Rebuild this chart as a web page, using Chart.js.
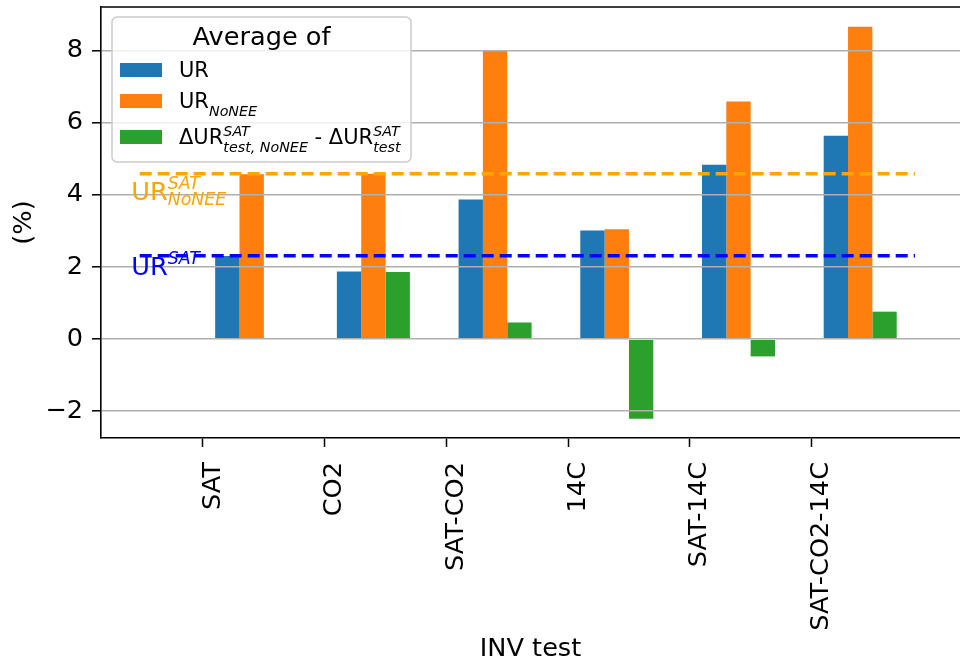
<!DOCTYPE html>
<html>
<head>
<meta charset="utf-8">
<script src="https://cdn.jsdelivr.net/npm/chart.js@4.4.0/dist/chart.umd.min.js"></script>
<style>
html, body { margin: 0; padding: 0; background: #fff; }
canvas { display: block; }
</style>
</head>
<body>
<canvas id="chart" width="960" height="667"></canvas>
<script>
// values
const categories = ['SAT', 'CO2', 'SAT-CO2', '14C', 'SAT-14C', 'SAT-CO2-14C'];
const urValues = [2.30, 1.87, 3.87, 3.01, 4.83, 5.63];
const urNoNeeValues = [4.57, 4.58, 7.99, 3.04, 6.58, 8.65];
const deltaValues = [null, 1.86, 0.46, -2.21, -0.48, 0.76];
const yTicks = [-2, 0, 2, 4, 6, 8];

// reference levels (dashed lines)
const urSat = 2.31;
const urSatNoNee = 4.58;
const refLineFrom = -0.52;
const refLineTo = 5.85;

const FONT = '"DejaVu Sans", sans-serif';
const BIG = 25.6;
const LEG = 21;

// bars sit to the right of the tick, the group centred at i + 0.4
const groupOffset = 0.4;

function barData(values) {
    return values.map((v, i) => ({ x: i + groupOffset, y: v }));
}

function lineData(level) {
    return [{ x: refLineFrom, y: level }, { x: refLineTo, y: level }];
}

// text with mathtext-like super/subscripts
function drawRich(ctx, x, y, size, parts, color, shifts) {
    ctx.save();
    ctx.fillStyle = color;
    ctx.textAlign = 'left';
    ctx.textBaseline = 'alphabetic';
    const small = size * 0.68;
    parts.forEach(p => {
        if (typeof p === 'string') {
            ctx.font = size + 'px ' + FONT;
            ctx.fillText(p, x, y);
            x += ctx.measureText(p).width;
        } else {
            ctx.font = 'italic ' + small + 'px ' + FONT;
            let w = 0;
            if (p.sup) {
                ctx.fillText(p.sup, x, y - size * shifts.sup);
                w = Math.max(w, ctx.measureText(p.sup).width);
            }
            if (p.sub) {
                ctx.fillText(p.sub, x, y + size * shifts.sub);
                w = Math.max(w, ctx.measureText(p.sub).width);
            }
            x += w;
        }
    });
    ctx.restore();
}

const extrasPlugin = {
    id: 'extras',
    afterDraw(chart) {
        const ctx = chart.ctx;
        const ca = chart.chartArea;
        const xs = chart.scales.x;
        const ys = chart.scales.y;

        // top spine
        ctx.save();
        ctx.strokeStyle = '#000';
        ctx.lineWidth = 1.6;
        ctx.beginPath();
        ctx.moveTo(ca.left, ca.top);
        ctx.lineTo(ca.right, ca.top);
        ctx.stroke();
        ctx.restore();

        // labels next to the dashed lines
        const ax = xs.getPixelForValue(-0.59);
        drawRich(ctx, ax, ys.getPixelForValue(3.85), BIG,
            ['UR', { sup: 'SAT', sub: 'NoNEE' }], '#FFA500', { sup: 0.44, sub: 0.2 });
        drawRich(ctx, ax, ys.getPixelForValue(1.77), BIG,
            ['UR', { sup: 'SAT' }], '#0000FF', { sup: 0.44, sub: 0.2 });

        // legend box
        const bx = ca.left + 11, by = ca.top + 10, bw = 299, bh = 145;
        ctx.save();
        ctx.fillStyle = 'rgba(255,255,255,0.8)';
        ctx.strokeStyle = '#cccccc';
        ctx.lineWidth = 1.5;
        ctx.beginPath();
        ctx.roundRect(bx, by, bw, bh, 5);
        ctx.fill();
        ctx.stroke();

        ctx.fillStyle = '#000';
        ctx.font = BIG + 'px ' + FONT;
        ctx.textAlign = 'center';
        ctx.textBaseline = 'alphabetic';
        ctx.fillText('Average of', bx + bw / 2, by + 28);

        const rows = [
            { color: '#1f77b4', y: by + 46, parts: ['UR'] },
            { color: '#ff7f0e', y: by + 77, parts: ['UR', { sub: 'NoNEE' }] },
            { color: '#2ca02c', y: by + 113, parts: ['\u0394UR', { sup: 'SAT', sub: 'test, NoNEE' }, ' - \u0394UR', { sup: 'SAT', sub: 'test' }] }
        ];
        rows.forEach(r => {
            ctx.fillStyle = r.color;
            ctx.fillRect(bx + 8, r.y, 42, 14);
            drawRich(ctx, bx + 67, r.y + 14, LEG, r.parts, '#000', { sup: 0.38, sub: 0.4 });
        });
        ctx.restore();
    }
};

const barStyle = { borderWidth: 0, categoryPercentage: 0.6, barPercentage: 1.0, grouped: true };

new Chart(document.getElementById('chart'), {
    type: 'bar',
    data: {
        datasets: [
            { type: 'line', data: lineData(urSatNoNee), borderColor: '#FFA500', borderWidth: 3.5, borderDash: [12, 6], pointRadius: 0, order: -1 },
            { type: 'line', data: lineData(urSat), borderColor: '#0000FF', borderWidth: 3.5, borderDash: [12, 6], pointRadius: 0, order: -1 },
            Object.assign({ label: 'UR', data: barData(urValues), backgroundColor: '#1f77b4' }, barStyle),
            Object.assign({ label: 'UR NoNEE', data: barData(urNoNeeValues), backgroundColor: '#ff7f0e' }, barStyle),
            Object.assign({ label: 'dUR', data: barData(deltaValues), backgroundColor: '#2ca02c' }, barStyle)
        ]
    },
    options: {
        responsive: false,
        animation: false,
        layout: { padding: { top: 7, right: 0, left: 0, bottom: 0 } },
        plugins: { legend: { display: false }, tooltip: { enabled: false } },
        scales: {
            x: {
                type: 'linear',
                offset: false,
                min: -0.838,
                max: 6.22,
                afterFit(scale) {
                    scale.height = 229;
                    scale.paddingLeft = 0;
                    scale.paddingRight = 0;
                },
                afterBuildTicks(scale) { scale.ticks = categories.map((c, i) => ({ value: i })); },
                ticks: {
                    color: '#000',
                    font: { family: FONT, size: BIG },
                    minRotation: 90,
                    maxRotation: 90,
                    padding: 15,
                    labelOffset: 10,
                    callback: (v) => categories[v]
                },
                grid: { offset: false, drawOnChartArea: false, drawTicks: true, tickLength: 9, tickColor: '#000', tickWidth: 1.5 },
                border: { color: '#000', width: 1.6 },
                title: { display: true, text: 'INV test', color: '#000', font: { family: FONT, size: BIG }, padding: { top: 0, bottom: 2 } }
            },
            y: {
                min: -2.74,
                max: 9.2,
                afterFit(scale) {
                    scale.width = 101;
                    scale.paddingTop = 0;
                    scale.paddingBottom = 0;
                },
                afterBuildTicks(scale) { scale.ticks = yTicks.map(v => ({ value: v })); },
                ticks: {
                    color: '#000',
                    font: { family: FONT, size: BIG },
                    padding: 9,
                    callback: (v) => v < 0 ? '\u2212' + Math.abs(v) : String(v)
                },
                grid: { color: '#b0b0b0', lineWidth: 1.6, z: 1, tickLength: 9, tickColor: '#000', tickWidth: 1.5 },
                border: { color: '#000', width: 1.6, z: 1 },
                title: { display: true, text: '(%)', color: '#000', font: { family: FONT, size: BIG }, padding: { top: 9, bottom: 4 } }
            }
        }
    },
    plugins: [extrasPlugin]
});
</script>
</body>
</html>
